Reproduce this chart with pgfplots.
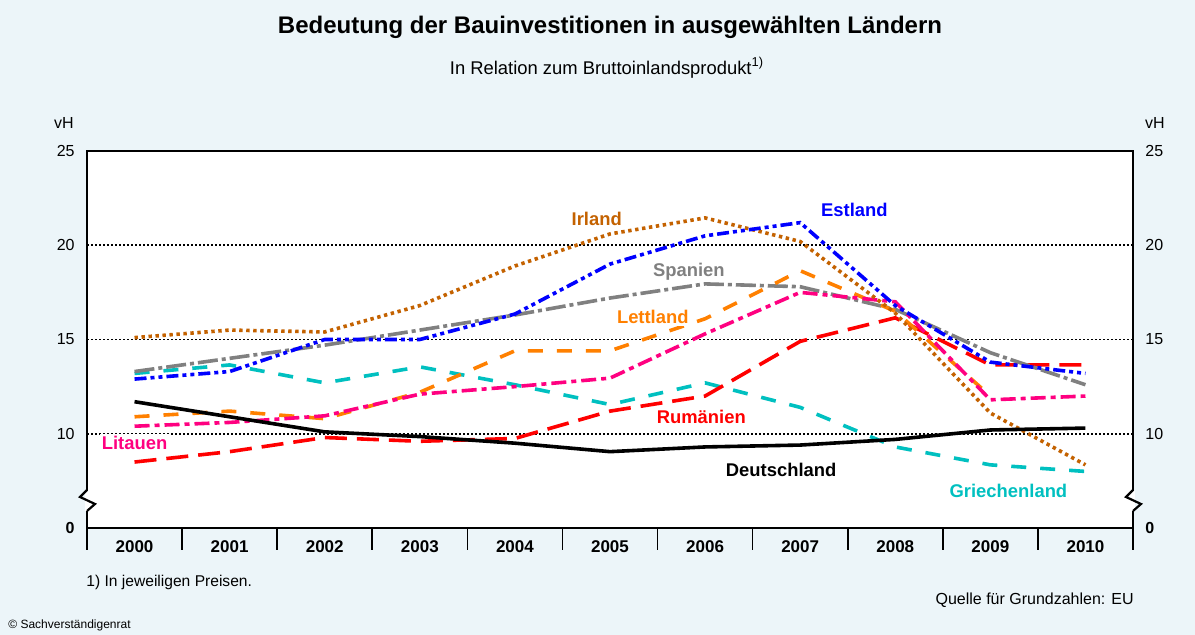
\documentclass[border=0pt]{standalone}
\usepackage{fontspec}
\setmainfont{Liberation Sans}
\usepackage{pgfplots}
\pgfplotsset{compat=1.18}
\definecolor{bg}{RGB}{236,245,249}
\definecolor{cIrland}{RGB}{196,98,0}
\definecolor{cEstland}{RGB}{0,0,255}
\definecolor{cSpanien}{RGB}{128,128,128}
\definecolor{cLettland}{RGB}{255,128,0}
\definecolor{cLitauen}{RGB}{255,0,128}
\definecolor{cRum}{RGB}{255,0,0}
\definecolor{cGr}{RGB}{0,192,192}

\pgfplotstableread{
x Deutschland Irland Estland Spanien Griechenland Litauen Rumaenien
0 11.70 15.10 12.90 13.30 13.20 10.40 8.50
1 10.90 15.50 13.30 14.00 13.65 10.60 9.05
2 10.10 15.40 15.00 14.70 12.70 10.95 9.80
3 9.85 16.80 15.00 15.50 13.55 12.10 9.60
4 9.50 18.90 16.35 16.30 12.60 12.50 9.75
5 9.05 20.60 19.00 17.20 11.55 12.95 11.20
6 9.30 21.45 20.50 17.95 12.70 15.30 12.00
7 9.40 20.20 21.20 17.80 11.40 17.50 14.90
8 9.70 16.40 16.80 16.60 9.30 17.00 16.15
9 10.20 11.10 13.80 14.30 8.35 11.80 13.65
10 10.30 8.35 13.20 12.60 8.00 12.00 13.65
}\datatable

\pgfplotstableread{
x Lettland
0 10.90
1 11.20
2 10.80
3 12.20
4 14.40
5 14.40
6 16.10
7 18.65
8 16.50
9 12.00
}\lettland

\begin{document}
\begin{tikzpicture}[x=0.5pt,y=-0.5pt]
\fill[bg] (0,0) rectangle (1195,635);
\begin{axis}[
  at={(43.5pt,-264pt)}, anchor=south west,
  scale only axis, width=523pt, height=188.5pt,
  xmin=-0.5, xmax=10.5, ymin=5, ymax=25,
  axis background/.style={fill=white},
  axis line style={line width=1.4pt},
  xtick={0,1,2,3,4,5,6,7,8,9,10},
  xticklabels={2000,2001,2002,2003,2004,2005,2006,2007,2008,2009,2010},
  minor xtick={-0.5,0.5,1.5,2.5,3.5,4.5,5.5,6.5,7.5,8.5,9.5,10.5},
  major tick length=0pt,
  minor tick length=11pt,
  tick align=outside,
  xtick pos=lower,
  minor tick style={black, line width=0.8pt},
  xticklabel style={font=\fontsize{8.5}{10}\selectfont\bfseries, anchor=base, yshift=-12.5pt, inner sep=0pt},
  ytick={5,10,15,20,25},
  yticklabels={\textbf{0},10,15,20,25},
  yticklabel style={font=\fontsize{8}{9.6}\selectfont, anchor=east, inner sep=0pt, xshift=-6pt},
  ymajorgrids,
  grid style={black, line width=0.9pt, dash pattern=on 1pt off 1pt},
  clip=false,
]
\addplot[cGr, line width=1.8pt, dash pattern=on 7.5pt off 7pt] table[x=x,y=Griechenland] {\datatable};
\addplot[cRum, line width=1.8pt, dash pattern=on 11pt off 5pt] table[x=x,y=Rumaenien] {\datatable};
\addplot[cSpanien, line width=1.8pt, dash pattern=on 10pt off 2pt on 2pt off 2pt] table[x=x,y=Spanien] {\datatable};
\addplot[cLettland, line width=1.8pt, dash pattern=on 7.5pt off 7pt] table[x=x,y=Lettland] {\lettland};
\addplot[cLitauen, line width=1.8pt, dash pattern=on 7.5pt off 2.5pt on 2.5pt off 2.5pt] table[x=x,y=Litauen] {\datatable};
\addplot[cIrland, line width=1.8pt, dash pattern=on 1.7pt off 1.8pt] table[x=x,y=Irland] {\datatable};
\addplot[cEstland, line width=1.8pt, dash pattern=on 6pt off 2pt on 2pt off 2pt on 2pt off 2pt] table[x=x,y=Estland] {\datatable};
\addplot[black, line width=1.8pt] table[x=x,y=Deutschland] {\datatable};

\tikzset{lab/.style={font=\fontsize{9.2}{11}\selectfont\bfseries, fill=white, inner sep=1pt}}
\node[lab, text=cIrland] at (axis cs:4.86,21.4) {Irland};
\node[lab, text=cEstland] at (axis cs:7.57,21.87) {Estland};
\node[lab, text=cSpanien] at (axis cs:5.83,18.59) {Spanien};
\node[lab, text=cLettland] at (axis cs:5.45,16.2) {Lettland};
\node[lab, text=cLitauen] at (axis cs:0,9.53) {Litauen};
\node[lab, text=cRum] at (axis cs:5.96,10.9) {Rumänien};
\node[lab, text=black] at (axis cs:6.80,8.1) {Deutschland};
\node[lab, text=cGr] at (axis cs:9.19,6.98) {Griechenland};
\end{axis}
\begin{axis}[
  at={(43.5pt,-264pt)}, anchor=south west,
  scale only axis, width=523pt, height=188.5pt,
  xmin=-0.5, xmax=10.5, ymin=5, ymax=25,
  hide x axis,
  axis y line*=right,
  y axis line style={draw=none},
  major tick length=0pt,
  ytick={5,10,15,20,25},
  yticklabels={\textbf{0},10,15,20,25},
  yticklabel style={font=\fontsize{8}{9.6}\selectfont, anchor=west, inner sep=0pt, xshift=6pt},
]
\addplot[draw=none] coordinates {(0,10)};
\end{axis}
% axis breaks
\foreach \ax in {87,1133} {
  \draw[white, line width=1.6pt] (\ax,491) -- (\ax,511);
  \draw[black, line width=1.1pt, line join=miter] (\ax,490) -- (\ax-7,497) -- (\ax+8,504) -- (\ax,511);
}
\node[font=\fontsize{12}{14}\selectfont\bfseries] at (610,27) {Bedeutung der Bauinvestitionen in ausgewählten Ländern};
\node[font=\fontsize{9.2}{11}\selectfont] at (607,68) {In Relation zum Bruttoinlandsprodukt\textsuperscript{1)}};
\node[font=\fontsize{8}{9.6}\selectfont] at (64,123) {vH};
\node[font=\fontsize{8}{9.6}\selectfont] at (1155,123) {vH};
\node[font=\fontsize{7.8}{9.4}\selectfont, anchor=west, inner sep=0pt] at (86,582) {1) In jeweiligen Preisen.};
\node[font=\fontsize{8}{9.6}\selectfont, anchor=east, inner sep=0pt] at (1134,600) {Quelle für Grundzahlen: EU};
\node[font=\fontsize{6}{7}\selectfont, anchor=west, inner sep=0pt] at (8,625) {© Sachverständigenrat};
\pgfresetboundingbox
\useasboundingbox (0,0) rectangle (1195,635);
\end{tikzpicture}
\end{document}
